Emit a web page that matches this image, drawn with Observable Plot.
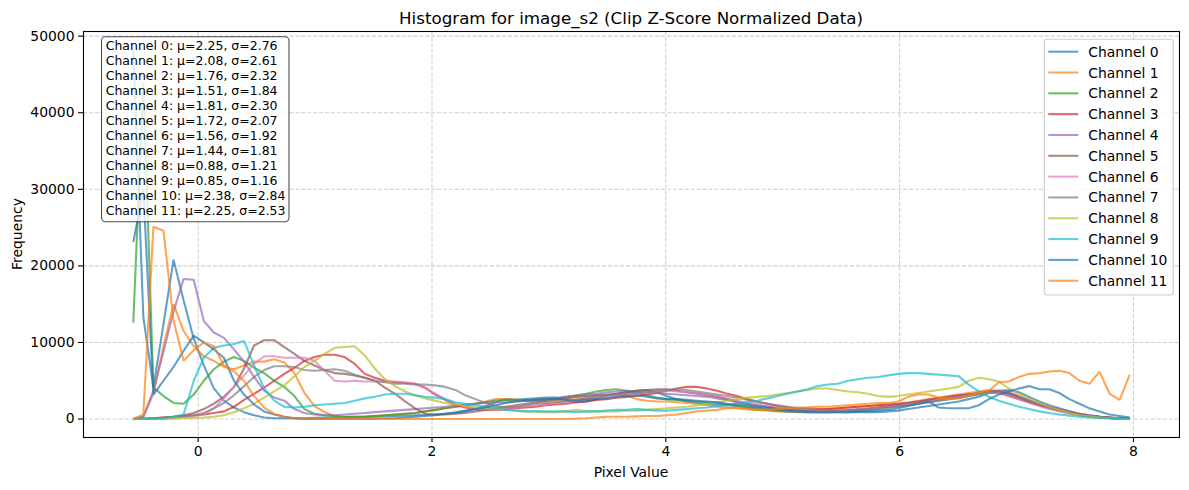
<!DOCTYPE html>
<html><head><meta charset="utf-8">
<script src="https://cdn.jsdelivr.net/npm/d3@7"></script>
<script src="https://cdn.jsdelivr.net/npm/@observablehq/plot@0.6"></script>
<style>
body{margin:0;background:#fff;}
svg{font-family:"DejaVu Sans",sans-serif;}
</style></head><body><div id="chart"></div>
<script>
// Histogram bin centers (Pixel Value)
const binCenters = [
-0.555,-0.469,-0.383,-0.297,-0.211,-0.125,-0.038,0.048,0.134,0.220,
0.306,0.392,0.478,0.564,0.650,0.737,0.823,0.909,0.995,1.081,
1.167,1.253,1.339,1.425,1.511,1.597,1.684,1.770,1.856,1.942,
2.028,2.114,2.200,2.286,2.372,2.458,2.545,2.631,2.717,2.803,
2.889,2.975,3.061,3.147,3.233,3.319,3.405,3.492,3.578,3.664,
3.750,3.836,3.922,4.008,4.094,4.180,4.266,4.353,4.439,4.525,
4.611,4.697,4.783,4.869,4.955,5.041,5.127,5.213,5.300,5.386,
5.472,5.558,5.644,5.730,5.816,5.902,5.988,6.074,6.161,6.247,
6.333,6.419,6.505,6.591,6.677,6.763,6.849,6.935,7.021,7.108,
7.194,7.280,7.366,7.452,7.538,7.624,7.710,7.796,7.882,7.968];

// Frequencies in thousands, one array per channel
const ch0 = [48.2,13.3,4.1,12.4,20.8,15.5,10.5,7.0,4.0,2.4,
1.5,0.9,0.5,0.2,0.1,0.1,0.1,0.1,0.15,0.2,
0.2,0.25,0.3,0.3,0.35,0.4,0.4,0.45,0.5,0.55,
0.6,0.7,0.8,1.0,1.3,1.7,2.2,2.6,2.5,2.6,
2.7,2.8,2.8,2.5,2.2,2.3,2.6,3.0,3.3,3.5,
3.7,3.8,3.5,3.0,2.6,2.3,2.1,2.0,1.9,1.8,
1.7,1.6,1.5,1.3,1.1,1.0,0.9,0.9,0.9,0.9,
0.9,0.9,0.9,0.9,0.9,1.0,1.1,1.3,1.5,1.7,
1.9,2.1,2.3,2.6,2.9,3.4,3.7,3.8,3.5,2.9,
2.3,1.8,1.4,1.0,0.7,0.5,0.3,0.2,0.1,0.1];
const ch1 = [0.0,0.3,3.3,9.5,15.0,11.5,9.5,8.2,7.6,6.8,
6.5,7.0,7.5,7.5,7.8,7.4,6.0,3.4,1.7,0.9,
0.4,0.2,0.2,0.3,0.4,0.5,0.6,0.7,0.8,1.0,
1.2,1.4,1.6,1.8,2.0,2.3,2.6,2.6,2.5,2.4,
2.3,2.3,2.4,2.5,2.6,2.8,3.0,3.1,3.2,3.1,
2.6,2.4,2.3,2.3,2.2,2.1,2.0,1.8,1.6,1.5,
1.4,1.3,1.2,1.1,1.0,1.0,1.0,1.1,1.2,1.3,
1.4,1.5,1.6,1.7,1.8,1.9,2.0,2.2,2.4,2.6,
2.8,3.0,3.2,3.4,3.6,3.8,3.7,3.4,2.9,2.4,
1.9,1.5,1.2,0.9,0.6,0.4,0.3,0.2,0.1,0.0];
const ch2 = [12.6,44.0,4.1,3.0,2.1,2.0,3.2,5.0,6.5,7.5,
8.1,7.6,6.7,6.0,5.0,4.2,3.0,1.3,0.7,0.5,
0.4,0.3,0.3,0.3,0.4,0.5,0.6,0.7,0.8,1.0,
1.2,1.4,1.6,1.8,2.0,2.2,2.4,2.5,2.5,2.5,
2.5,2.6,2.7,2.9,3.1,3.3,3.6,3.8,3.9,3.7,
3.4,3.1,2.8,2.6,2.5,2.4,2.3,2.2,2.1,1.9,
1.7,1.5,1.3,1.2,1.1,1.0,1.0,0.9,0.9,0.9,
1.0,1.0,1.1,1.2,1.3,1.5,1.6,1.8,2.0,2.2,
2.4,2.6,2.8,3.0,3.2,3.4,3.5,3.3,2.8,2.3,
1.9,1.5,1.2,0.9,0.6,0.4,0.3,0.15,0.05,0.0];
const ch3 = [0.0,0.1,0.1,0.2,0.3,0.4,0.5,0.6,0.8,1.0,
1.6,2.5,3.3,4.1,5.0,5.9,6.7,7.6,8.1,8.4,
8.4,8.1,7.2,5.9,5.4,5.0,4.8,4.7,4.6,4.1,
3.2,2.5,1.8,1.5,1.3,1.2,1.2,1.3,1.4,1.5,
1.6,1.8,1.9,2.0,2.2,2.3,2.5,2.6,2.8,2.9,
3.0,3.2,3.4,3.7,4.0,4.2,4.2,4.0,3.7,3.3,
3.0,2.6,2.3,2.0,1.7,1.5,1.4,1.4,1.3,1.3,
1.4,1.5,1.6,1.7,1.8,1.9,2.0,2.1,2.3,2.5,
2.7,2.9,3.1,3.2,3.3,3.4,3.4,3.0,2.6,2.2,
1.8,1.5,1.2,0.9,0.6,0.4,0.25,0.15,0.05,0.0];
const ch4 = [0.0,0.3,3.7,8.8,14.0,18.3,18.2,12.8,11.3,10.6,
9.1,7.5,5.5,3.7,2.8,2.4,1.3,0.8,0.6,0.5,
0.5,0.6,0.7,0.8,0.9,1.0,1.1,1.2,1.3,1.4,
1.5,1.6,1.8,1.9,2.0,2.1,2.2,2.2,2.3,2.4,
2.5,2.6,2.7,2.9,3.0,3.2,3.3,3.5,3.6,3.7,
3.6,3.5,3.4,3.3,3.2,3.1,3.0,2.9,2.7,2.5,
2.2,2.0,1.8,1.6,1.4,1.2,1.1,1.0,1.0,1.0,
1.1,1.2,1.3,1.4,1.5,1.7,1.9,2.0,2.2,2.4,
2.6,2.8,3.0,3.2,3.4,3.6,3.7,3.5,3.0,2.5,
2.0,1.6,1.3,1.0,0.7,0.5,0.3,0.2,0.1,0.0];
const ch5 = [0.0,0.0,0.1,0.2,0.3,0.5,0.8,1.3,2.0,2.9,
4.2,6.6,9.6,10.3,10.3,9.4,8.5,7.6,7.0,6.4,
6.0,5.9,5.7,5.4,5.0,4.1,3.3,2.3,1.4,0.7,
0.6,0.6,0.7,0.8,1.0,1.2,1.4,1.6,1.8,2.0,
2.2,2.4,2.6,2.7,2.9,3.0,3.1,3.2,3.3,3.5,
3.7,3.8,3.9,3.9,3.7,3.5,3.3,3.1,2.9,2.6,
2.3,2.0,1.8,1.6,1.4,1.2,1.1,1.0,1.0,1.0,
1.0,1.1,1.2,1.3,1.5,1.6,1.8,2.0,2.2,2.4,
2.6,2.8,3.0,3.2,3.4,3.6,3.6,3.3,2.8,2.3,
1.8,1.4,1.1,0.8,0.6,0.4,0.25,0.15,0.05,0.0];
const ch6 = [0.0,0.0,0.0,0.1,0.2,0.3,0.4,0.6,1.4,2.7,
4.2,5.7,7.2,8.2,8.2,8.0,8.0,8.0,7.6,6.3,
5.0,4.9,5.0,4.9,4.9,4.9,4.9,4.8,4.6,4.0,
3.3,2.6,2.0,1.6,1.4,1.3,1.3,1.4,1.5,1.7,
1.8,2.0,2.1,2.3,2.4,2.6,2.8,2.9,3.1,3.2,
3.3,3.5,3.6,3.7,3.6,3.5,3.4,3.2,3.0,2.7,
2.4,2.1,1.9,1.7,1.5,1.3,1.2,1.1,1.0,1.0,
1.0,1.1,1.2,1.3,1.4,1.5,1.7,1.9,2.1,2.3,
2.5,2.7,2.9,3.1,3.3,3.4,3.4,3.1,2.6,2.1,
1.7,1.3,1.0,0.7,0.5,0.3,0.2,0.1,0.05,0.0];
const ch7 = [0.0,0.0,0.0,0.1,0.2,0.3,0.5,0.8,1.4,2.1,
3.1,4.3,5.5,6.4,6.9,6.9,6.8,6.4,6.3,6.4,
6.5,6.3,5.8,5.4,5.0,4.8,4.6,4.6,4.5,4.5,
4.4,4.2,3.8,3.1,2.6,2.1,1.7,1.5,1.6,1.8,
2.0,2.1,2.2,2.3,2.5,2.7,2.9,3.1,3.2,3.3,
3.4,3.5,3.7,3.8,3.9,3.8,3.6,3.4,3.2,3.0,
2.8,2.5,2.2,2.0,1.8,1.6,1.4,1.3,1.2,1.1,
1.1,1.1,1.2,1.3,1.4,1.5,1.7,1.8,2.0,2.2,
2.4,2.6,2.8,3.0,3.3,3.6,3.6,3.3,2.8,2.3,
1.9,1.5,1.2,0.9,0.6,0.4,0.25,0.15,0.05,0.0];
const ch8 = [0.0,0.0,0.0,0.0,0.05,0.1,0.15,0.2,0.3,0.5,
0.9,1.4,2.0,2.8,3.6,4.4,5.6,6.8,7.6,8.5,
9.3,9.4,9.5,8.3,6.6,5.2,4.3,3.6,3.1,2.7,
2.4,2.1,1.9,1.7,1.5,1.4,1.3,1.2,1.1,1.0,
1.0,0.9,0.9,1.0,1.2,1.0,1.0,1.0,1.0,1.1,
1.1,1.2,1.3,1.4,1.5,1.6,1.8,2.0,2.2,2.4,
2.6,2.8,2.9,3.0,3.2,3.4,3.6,3.8,4.0,4.0,
3.8,3.6,3.5,3.3,3.0,2.9,3.0,3.2,3.4,3.6,
3.8,4.0,4.2,5.0,5.4,5.2,4.9,4.0,3.3,2.7,
2.1,1.6,1.2,0.8,0.5,0.35,0.2,0.1,0.05,0.0];
const ch9 = [0.0,0.0,0.0,0.1,0.3,0.6,5.0,8.0,9.3,9.6,
9.8,10.2,7.0,4.0,2.4,1.6,1.5,1.6,1.8,1.9,
2.0,2.1,2.4,2.7,2.9,3.2,3.3,3.3,3.1,2.9,
2.8,2.6,2.2,2.0,1.8,1.6,1.4,1.2,1.1,1.0,
1.0,1.0,1.0,1.0,0.9,1.0,1.0,1.1,1.2,1.2,
1.3,1.2,1.1,1.1,1.2,1.3,1.4,1.5,1.7,1.8,
2.0,2.2,2.4,2.7,3.0,3.3,3.6,3.9,4.3,4.5,
4.6,5.0,5.2,5.4,5.5,5.7,5.9,6.0,6.0,5.9,
5.8,5.7,5.6,4.5,3.6,2.9,2.4,2.0,1.6,1.3,
1.0,0.8,0.6,0.45,0.3,0.2,0.15,0.1,0.05,0.0];
const ch10 = [23.1,30.0,3.2,5.0,6.8,8.9,10.9,10.0,9.1,8.0,
5.0,3.2,1.9,1.0,0.6,0.3,0.1,0.0,0.0,0.0,
0.0,0.0,0.0,0.0,0.05,0.1,0.1,0.2,0.3,0.4,
0.5,0.7,0.9,1.1,1.3,1.5,1.8,2.1,2.3,2.4,
2.5,2.6,2.6,2.5,2.4,2.5,2.6,2.7,2.9,3.0,
3.1,2.9,2.7,2.6,2.6,2.5,2.4,2.3,2.2,2.0,
1.9,1.8,1.6,1.5,1.3,1.2,1.1,1.0,0.9,0.9,
0.9,0.9,1.0,1.0,1.1,1.2,1.4,1.7,2.0,2.3,
1.5,1.4,1.4,1.4,1.8,2.6,3.2,3.6,4.0,4.3,
3.9,3.9,3.4,2.6,2.0,1.4,1.0,0.6,0.4,0.2];
const ch11 = [0.0,0.6,25.1,24.6,12.9,7.6,9.0,10.0,9.5,7.0,
6.2,5.0,3.0,1.5,0.7,0.3,0.1,0.05,0.0,0.0,
0.0,0.0,0.0,0.0,0.0,0.0,0.0,0.0,0.0,0.0,
0.0,0.0,0.0,0.0,0.0,0.0,0.0,0.0,0.0,0.0,
0.0,0.0,0.0,0.0,0.05,0.1,0.2,0.3,0.3,0.3,
0.35,0.4,0.4,0.5,0.6,0.8,1.0,1.1,1.2,1.4,
1.5,1.3,1.2,1.2,1.3,1.4,1.5,1.5,1.6,1.6,
1.7,1.8,1.9,2.0,2.1,2.1,2.3,2.9,3.2,3.2,
2.8,2.6,2.7,3.0,3.5,3.7,4.8,4.9,5.5,5.9,
6.0,6.2,6.3,6.0,5.0,4.6,6.2,3.3,2.5,5.8];

const series = [ch0, ch1, ch2, ch3, ch4, ch5, ch6, ch7, ch8, ch9, ch10, ch11];
const channelNames = series.map((_, i) => "Channel " + i);
const means = [2.25, 2.08, 1.76, 1.51, 1.81, 1.72, 1.56, 1.44, 0.88, 0.85, 2.38, 2.25];
const stds  = [2.76, 2.61, 2.32, 1.84, 2.30, 2.07, 1.92, 1.81, 1.21, 1.16, 2.84, 2.53];
const palette = ["#1f77b4","#ff7f0e","#2ca02c","#d62728","#9467bd","#8c564b","#e377c2","#7f7f7f","#bcbd22","#17becf"];
const xTicks = [0, 2, 4, 6, 8];
const yTicks = [0, 10000, 20000, 30000, 40000, 50000];

const W = 1189, H = 490;
const mL = 83, mR = 10, mT = 31, mB = 53;

const table = series.map((arr, c) => arr.map((v, i) => ({channel: channelNames[c], x: binCenters[i], count: v * 1000})));
const gridStyle = {stroke: "#b0b0b0", strokeOpacity: 0.6, strokeWidth: 1.1, strokeDasharray: "4.1,1.8"};

const chart = Plot.plot({
  width: W, height: H,
  marginLeft: mL, marginRight: mR, marginTop: mT, marginBottom: mB,
  style: {fontFamily: "DejaVu Sans", fontSize: "13.9px", color: "#000", background: "#fff"},
  x: {domain: [-0.981, 8.394]},
  y: {domain: [-2410, 50610]},
  marks: [
    Plot.ruleX(xTicks, gridStyle),
    Plot.ruleY(yTicks, gridStyle),
    ...table.map((d, c) => Plot.line(d, {x: "x", y: "count", stroke: palette[c % 10], strokeWidth: 2.08, strokeOpacity: 0.7, strokeLinejoin: "miter", strokeLinecap: "butt"})),
    Plot.frame({stroke: "#000", strokeWidth: 1.1}),
    Plot.axisX({ticks: xTicks, tickSize: 5, tickPadding: 4, label: null, tickFormat: d => String(d), strokeWidth: 1.1}),
    Plot.axisY({ticks: yTicks, tickSize: 5, tickPadding: 4, label: null, tickFormat: d => String(d), strokeWidth: 1.1})
  ]
});
document.getElementById("chart").appendChild(chart);

const svg = d3.select(chart);
const font = "DejaVu Sans, sans-serif";
// Title
svg.append("text").attr("x", (mL + W - mR) / 2).attr("y", 24).attr("text-anchor", "middle")
  .attr("font-family", font).attr("font-size", "16.7px").attr("fill", "#000")
  .text("Histogram for image_s2 (Clip Z-Score Normalized Data)");
// Axis labels
svg.append("text").attr("x", (mL + W - mR) / 2).attr("y", 477).attr("text-anchor", "middle")
  .attr("font-family", font).attr("font-size", "13.9px").attr("fill", "#000").text("Pixel Value");
svg.append("text").attr("transform", `translate(22,${(mT + H - mB) / 2}) rotate(-90)`).attr("text-anchor", "middle")
  .attr("font-family", font).attr("font-size", "13.9px").attr("fill", "#000").text("Frequency");

// Stats box
const sb = svg.append("g");
sb.append("rect").attr("x", 101.5).attr("y", 36.7).attr("width", 187.5).attr("height", 185).attr("rx", 4)
  .attr("fill", "#fff").attr("fill-opacity", 0.8).attr("stroke", "#000").attr("stroke-opacity", 0.7).attr("stroke-width", 1.1);
series.forEach((_, i) => {
  sb.append("text").attr("x", 105.7).attr("y", 50.2 + 15 * i).attr("text-anchor", "start")
    .attr("font-family", font).attr("font-size", "12.5px").attr("fill", "#000")
    .text(`${channelNames[i]}: μ=${means[i].toFixed(2)}, σ=${stds[i].toFixed(2)}`);
});

// Legend
const lg = svg.append("g");
lg.append("rect").attr("x", 1044.3).attr("y", 39.3).attr("width", 129).attr("height", 255.7).attr("rx", 3)
  .attr("fill", "#fff").attr("fill-opacity", 0.8).attr("stroke", "#cccccc").attr("stroke-width", 1.1);
series.forEach((_, i) => {
  const cy = 51.7 + 20.82 * i;
  lg.append("line").attr("x1", 1048.3).attr("x2", 1078.3).attr("y1", cy).attr("y2", cy)
    .attr("stroke", palette[i % 10]).attr("stroke-opacity", 0.7).attr("stroke-width", 2.08);
  lg.append("text").attr("x", 1088.3).attr("y", cy + 5).attr("text-anchor", "start")
    .attr("font-family", font).attr("font-size", "13.9px").attr("fill", "#000").text(channelNames[i]);
});
</script></body></html>
